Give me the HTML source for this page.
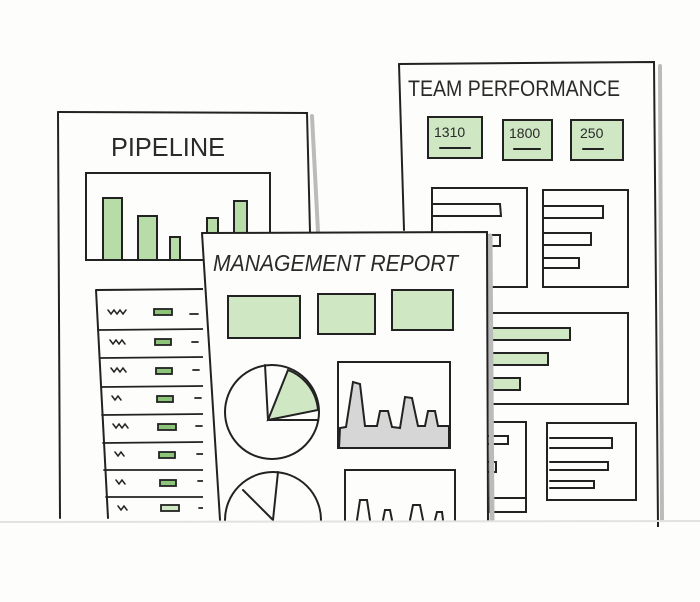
<!DOCTYPE html>
<html><head><style>
html,body{margin:0;padding:0;background:#fdfdfb;}
svg{display:block;}
text{font-family:"Liberation Sans",sans-serif;fill:#2a2a2a;}
</style></head><body>
<svg width="700" height="602" viewBox="0 0 700 602" xmlns="http://www.w3.org/2000/svg">
<rect width="700" height="602" fill="#fdfdfb"/>
<g stroke="#222" stroke-width="2" fill="none" stroke-linecap="round">
<!-- TEAM PERFORMANCE sheet -->
<rect x="400" y="62" width="257" height="462" fill="#fdfdfb" stroke="none"/>
<path d="M660 66 L662 524" stroke="#bbb" stroke-width="4"/>
<path d="M399 64 L654 62 L658 526"/>
<path d="M399 64 L404 230"/>
<text x="408" y="96" font-size="22" stroke="none" textLength="212" lengthAdjust="spacingAndGlyphs">TEAM PERFORMANCE</text>
<rect x="428" y="117" width="54" height="41" fill="#cfe7c3"/>
<rect x="503" y="120" width="49" height="40" fill="#cfe7c3"/>
<rect x="571" y="120" width="52" height="40" fill="#cfe7c3"/>
<text x="434" y="137" font-size="14" stroke="none">1310</text>
<text x="509" y="138" font-size="14" stroke="none">1800</text>
<text x="580" y="138" font-size="14" stroke="none">250</text>
<path d="M440 148 L470 148 M514 149 L540 149 M583 149 L603 149"/>
<rect x="432" y="188" width="95" height="99"/>
<path d="M432 204 L500 204 L501 216 L432 216"/>
<path d="M488 235 L500 235 L500 246 L488 246"/>
<rect x="543" y="190" width="85" height="97"/>
<path d="M543 206 L603 206 L603 218 L543 218 M543 233 L591 233 L591 245 L543 245 M543 258 L579 258 L579 268 L543 268"/>
<rect x="490" y="313" width="138" height="91"/>
<rect x="490" y="328" width="80" height="12" fill="#cfe7c3"/>
<rect x="490" y="353" width="58" height="12" fill="#cfe7c3"/>
<rect x="490" y="378" width="30" height="12" fill="#cfe7c3"/>
<rect x="490" y="422" width="36" height="90"/>
<path d="M484 436 L508 436 L508 444 L484 444 M484 462 L496 462 L496 472 L484 472 M484 498 L526 498"/>
<rect x="547" y="423" width="89" height="77"/>
<path d="M550 438 L612 438 L612 448 L550 448 M550 462 L608 462 L608 470 L550 470 M550 481 L594 481 L594 488 L550 488"/>

<!-- PIPELINE sheet -->
<rect x="59" y="112" width="250" height="408" fill="#fdfdfb" stroke="none"/>
<path d="M312 116 L318 232" stroke="#bbb" stroke-width="4"/>
<path d="M58 112 L307 113 L310 232"/>
<path d="M58 112 L60 518"/>
<text x="111" y="156" font-size="26" stroke="none" textLength="114" lengthAdjust="spacingAndGlyphs">PIPELINE</text>
<rect x="86" y="173" width="184" height="87"/>
<rect x="103" y="198" width="19" height="62" fill="#b7dca8"/>
<rect x="138" y="216" width="19" height="44" fill="#b7dca8"/>
<rect x="170" y="237" width="10" height="23" fill="#b7dca8"/>
<rect x="207" y="218" width="11" height="42" fill="#b7dca8"/>
<rect x="234" y="201" width="13" height="59" fill="#b7dca8"/>
<path d="M96 290 L205 289 M96 290 L108 518"/>
<g stroke-width="1.8">
<path d="M98 330 L205 329 M100 358 L205 357 M101 387 L205 386 M102 415 L205 414 M103 443 L205 442 M104 470 L205 470 M106 497 L205 497"/>
<g stroke-width="1.5">
<path d="M108 310 l3 4 3-4 3 4 3-4 3 4 3-4 M110 340 l3 4 3-4 3 4 3-4 3 4 M111 368 l3 4 3-4 3 4 3-4 3 4 M112 396 l3 4 3-4 3 4 M113 424 l3 4 3-4 3 4 3-4 3 4 M115 452 l3 4 3-4 3 4 M116 480 l3 4 3-4 3 4 M118 506 l3 4 3-4 3 4"/>
</g>
<rect x="154" y="309" width="18" height="6" fill="#8cc57a"/>
<rect x="155" y="339" width="16" height="6" fill="#8cc57a"/>
<rect x="156" y="368" width="16" height="6" fill="#8cc57a"/>
<rect x="157" y="396" width="16" height="6" fill="#8cc57a"/>
<rect x="158" y="424" width="18" height="6" fill="#8cc57a"/>
<rect x="159" y="452" width="16" height="6" fill="#8cc57a"/>
<rect x="160" y="480" width="16" height="6" fill="#8cc57a"/>
<rect x="161" y="505" width="18" height="6" fill="#cfe7c3"/>
<path d="M190 314 L198 314 M192 342 L198 342 M193 370 L199 370 M195 398 L201 398 M196 426 L202 426 M197 454 L203 454 M198 481 L203 481 M199 508 L204 508"/>
</g>

<!-- MANAGEMENT REPORT sheet -->
<rect x="203" y="232" width="284" height="288" fill="#fdfdfb" stroke="none"/>
<path d="M490 236 L492 520" stroke="#bbb" stroke-width="5"/>
<path d="M202 233 L487 232 L488 520"/>
<path d="M202 233 L220 520"/>
<text x="213" y="271" font-size="23" stroke="none" font-style="italic" textLength="245" lengthAdjust="spacingAndGlyphs">MANAGEMENT REPORT</text>
<rect x="228" y="296" width="72" height="42" fill="#cfe7c3"/>
<rect x="318" y="294" width="57" height="40" fill="#cfe7c3"/>
<rect x="392" y="290" width="61" height="40" fill="#cfe7c3"/>
<circle cx="272" cy="412" r="47"/>
<path d="M268 420 L288 370 A47 47 0 0 1 318 410 Z" fill="#cfe7c3"/>
<path d="M268 420 L265 365 M268 420 L318 420"/>
<rect x="338" y="362" width="112" height="86"/>
<path d="M339 448 L340 428 L346 427 L353 382 L360 384 L365 426 L377 426 L380 411 L388 411 L392 427 L400 428 L405 397 L412 398 L418 426 L425 426 L428 411 L435 411 L438 426 L449 426 L449 448 Z" fill="#d6d6d6"/>
<circle cx="273" cy="520" r="48"/>
<path d="M273 520 L278 472 M273 520 L243 490"/>
<rect x="345" y="470" width="110" height="60"/>
<path d="M357 520 L360 500 L367 500 L370 520 M383 520 L385 510 L390 510 L392 520 M410 520 L413 505 L420 505 L423 520 M435 520 L437 512 L442 512 L443 520"/>
</g>
<rect x="0" y="522" width="700" height="80" fill="#fdfdfb"/>
<line x1="0" y1="522" x2="700" y2="521" stroke="#e2e2e0" stroke-width="2"/>
<path d="M658 522 L658 527" stroke="#222" stroke-width="2"/>
</svg>
</body></html>
